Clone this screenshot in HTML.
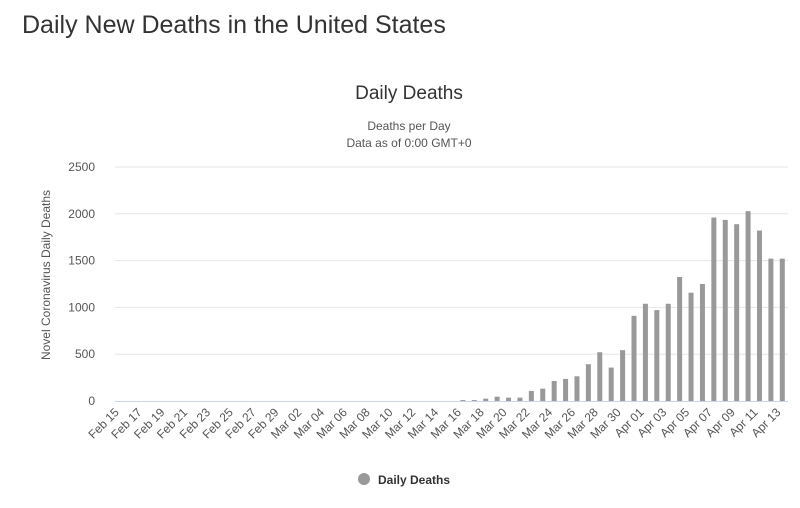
<!DOCTYPE html>
<html><head><meta charset="utf-8"><style>
body{margin:0;background:#fff;font-family:"Liberation Sans",sans-serif;}
#wrap{position:relative;width:800px;height:508px;overflow:hidden}
h1{position:absolute;left:22px;top:11px;margin:0;font-weight:normal;font-size:25px;color:#333}
</style></head><body><div id="wrap">
<h1>Daily New Deaths in the United States</h1>
<svg id="chart" width="800" height="508" style="position:absolute;left:0;top:0"></svg>
</div>
<script>
const categories=[];
const months=[["Feb",15,29],["Mar",1,31],["Apr",1,13]];
for(const [m,a,b] of months)for(let d=a;d<=b;d++)categories.push(m+" "+String(d).padStart(2,"0"));
const deaths=[0,0,0,0,0,0,0,0,0,0,0,0,0,0,0,0,0,0,0,0,0,0,0,0,0,0,0,0,0,0,10,10,25,46,36,36,107,132,214,236,264,393,521,357,543,910,1039,971,1039,1325,1157,1250,1960,1935,1889,2028,1821,1521,1521];
const yTicks=[0,500,1000,1500,2000,2500];
const NS="http://www.w3.org/2000/svg";
const svg=document.getElementById("chart");
const x0=115,pw=673,y0=401,ph=234,ymax=2500;
const bw=pw/categories.length;
const y=v=>y0-v/ymax*ph;
const x=i=>x0+(i+0.5)*bw;
function mk(t,a,txt){const e=document.createElementNS(NS,t);for(const k in a)e.setAttribute(k,a[k]);if(txt!=null)e.textContent=txt;svg.appendChild(e);return e;}
let e;
e=mk("text",{x:409,y:99,"text-anchor":"middle","font-size":19,fill:"#333"},"Daily Deaths");


e=mk("text",{x:409,y:130,"text-anchor":"middle","font-size":12,fill:"#555"},"Deaths per Day");


e=mk("text",{x:409,y:147,"text-anchor":"middle","font-size":12,fill:"#555"},"Data as of 0:00 GMT+0");


yTicks.forEach(t=>{
 if(t>0){e=mk("line",{x1:x0,x2:x0+pw,y1:y(t),y2:y(t),stroke:"#e6e6e6"});
 
 }
 e=mk("text",{x:95,y:y(t)+4,"text-anchor":"end","font-size":12,fill:"#555"},t);
 
 
});
e=mk("text",{transform:"translate(50,275) rotate(-90)","text-anchor":"middle","font-size":12,fill:"#555"},"Novel Coronavirus Daily Deaths");


deaths.forEach((v,i)=>{
 e=mk("rect",{x:x(i)-2.5,y:y(v),width:5,height:Math.max(0,y0-y(v)),fill:"#999"});
 
 
});
e=mk("line",{x1:x0,x2:x0+pw,y1:y0+0.5,y2:y0+0.5,stroke:"#ccd6eb"});


categories.forEach((c,i)=>{if(i%2)return;
 e=mk("text",{transform:`translate(${x(i)-1},${y0+12}) rotate(-45)`,"text-anchor":"end","font-size":12,fill:"#555"},c);
 
 
});
e=mk("circle",{cx:364,cy:479,r:6,fill:"#999"});


e=mk("text",{x:378,y:484,"font-size":12,"font-weight":"bold",fill:"#333"},"Daily Deaths");


</script></body></html>
